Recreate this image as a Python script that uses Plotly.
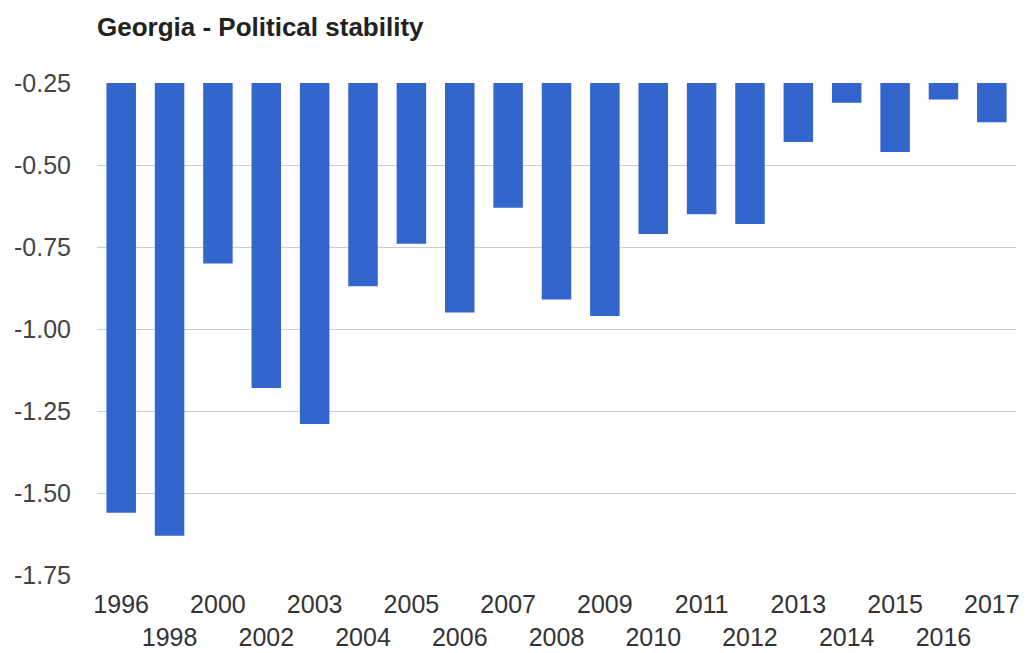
import plotly.graph_objects as go

years = ["1996", "1998", "2000", "2002", "2003", "2004", "2005", "2006", "2007", "2008",
         "2009", "2010", "2011", "2012", "2013", "2014", "2015", "2016", "2017"]
values = [-1.56, -1.63, -0.80, -1.18, -1.29, -0.87, -0.74, -0.95, -0.63, -0.91,
          -0.96, -0.71, -0.65, -0.68, -0.43, -0.31, -0.46, -0.30, -0.37]
y_ticks = [-0.25, -0.50, -0.75, -1.00, -1.25, -1.50, -1.75]

ticktext = [y if i % 2 == 0 else "<br>" + y for i, y in enumerate(years)]

# page body has an 8px margin; figure coordinates are offset accordingly
fig = go.Figure(go.Bar(x=years, y=values, marker_color="#3366cc", marker_line_width=0))

fig.update_layout(
    width=1014, height=645,
    margin=dict(l=89, r=6, t=75, b=78),
    paper_bgcolor="white", plot_bgcolor="white",
    bargap=0.39,
    showlegend=False,
    font=dict(family="Liberation Sans, Arial", size=25, color="#444"),
    title=dict(text="<b>Georgia - Political stability</b>", x=89/1014, xref="container", xanchor="left",
               y=1 - 19/645, yref="container", yanchor="middle",
               font=dict(size=26, color="#222")),
)
fig.update_xaxes(type="category", tickmode="array", tickvals=years, ticktext=ticktext,
                 showgrid=False, showline=False, ticks="", tickangle=0, automargin=False,
                 ticklabelstandoff=12,
                 tickfont=dict(size=25, color="#333"))
fig.update_yaxes(range=[-1.75, -0.25], tickvals=y_ticks, ticktext=[f"{v:.2f}" for v in y_ticks],
                 showgrid=True, gridcolor="#cccccc", gridwidth=1, zeroline=False,
                 showline=False, ticks="", ticklabelstandoff=25, automargin=False,
                 tickfont=dict(size=25, color="#444"))

fig.write_html("out.html")
